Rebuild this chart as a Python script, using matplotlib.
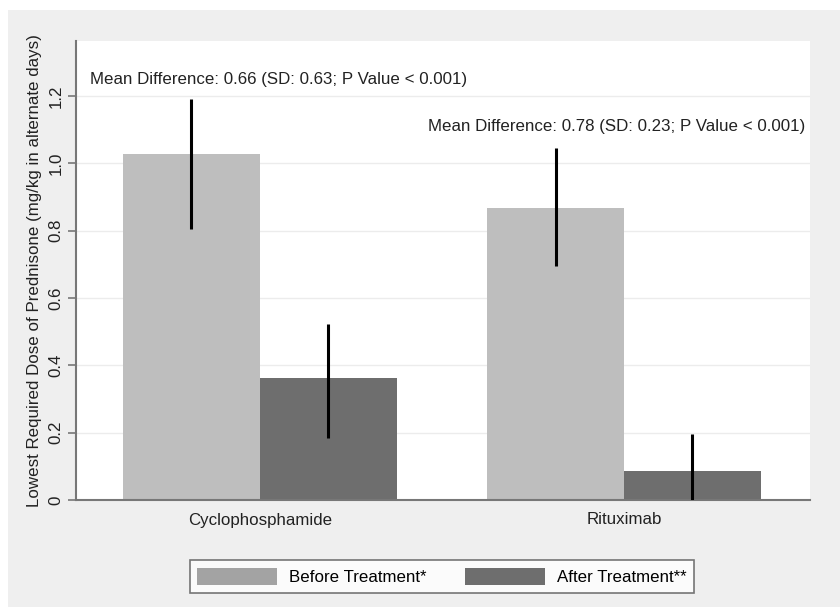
import matplotlib
matplotlib.use("Agg")
import matplotlib.pyplot as plt
from matplotlib.patches import Patch, Rectangle
import numpy as np

plt.rcParams['font.family'] = ['Liberation Sans', 'DejaVu Sans']

categories = ["Cyclophosphamide", "Rituximab"]
series_names = ["Before Treatment*", "After Treatment**"]
before = [1.028, 0.867]
after = [0.362, 0.086]
before_lo = [0.805, 0.695]
before_hi = [1.191, 1.045]
after_lo = [0.184, 0.0]
after_hi = [0.523, 0.196]
annotations = ["Mean Difference: 0.66 (SD: 0.63; P Value < 0.001)",
               "Mean Difference: 0.78 (SD: 0.23; P Value < 0.001)"]
annot_y = [1.25, 1.11]
yticks = [0, 0.2, 0.4, 0.6, 0.8, 1.0, 1.2]
ytick_labels = ["0", "0.2", "0.4", "0.6", "0.8", "1.0", "1.2"]

c_before = "#bebebe"
c_after = "#6e6e6e"
fs = 12.2
tc = "#222222"

fig = plt.figure(figsize=(8.4, 6.07), dpi=100, facecolor="white")
fig.patches.append(Rectangle((8/840, 0), 1, 1 - 10/607, transform=fig.transFigure,
                             facecolor="#efefef", edgecolor="none", zorder=-10))
ax = fig.add_axes([76/840, 1 - 500/607, (810-76)/840, (500-41)/607])
ax.set_facecolor("white")

x = np.arange(len(categories))
w = 0.376
ax.bar(x - w/2, before, width=w, color=c_before, zorder=2)
ax.bar(x + w/2, after, width=w, color=c_after, zorder=2)
ax.vlines(x - w/2, before_lo, before_hi, color="black", lw=2.2, zorder=3)
ax.vlines(x + w/2, after_lo, after_hi, color="black", lw=2.2, zorder=3)

ax.text(-0.467, annot_y[0], annotations[0], ha="left", va="center", fontsize=fs, color=tc)
ax.text(0.4615, annot_y[1], annotations[1], ha="left", va="center", fontsize=fs, color=tc)

ax.set_xlim(-0.505, 1.511)
ax.set_ylim(0, 1.363)
ax.set_yticks(yticks)
ax.set_yticklabels(ytick_labels, rotation=90, va="center", fontsize=fs, color=tc)
ax.set_xticks(x)
ax.set_xticklabels(categories, fontsize=fs, color=tc)
ax.tick_params(axis="x", length=0, pad=9)
ax.tick_params(axis="y", length=6, width=1.2, color="#777777", pad=3)
ax.yaxis.grid(True, color="#ececec", lw=1, zorder=0)
ax.set_axisbelow(True)
for s in ["top", "right"]:
    ax.spines[s].set_visible(False)
for s in ["left", "bottom"]:
    ax.spines[s].set_color("#777777")
    ax.spines[s].set_linewidth(1.5)
ax.set_ylabel("Lowest Required Dose of Prednisone (mg/kg in alternate days)", fontsize=fs,
              color=tc, labelpad=5)

handles = [Patch(facecolor="#a3a3a3", edgecolor="none"), Patch(facecolor=c_after, edgecolor="none")]
leg = fig.legend(handles, series_names, loc="center", bbox_to_anchor=(442/840, 1 - 576.5/607),
                 ncol=2, fancybox=False, frameon=True, edgecolor="#555555", fontsize=fs,
                 handlelength=4.7, handleheight=1.15, handletextpad=0.7, columnspacing=2.3,
                 borderpad=0.45, borderaxespad=0)
leg.get_frame().set_linewidth(1.2)
leg.get_frame().set_facecolor("white")

fig.savefig("out.png", dpi=100, facecolor=fig.get_facecolor())
